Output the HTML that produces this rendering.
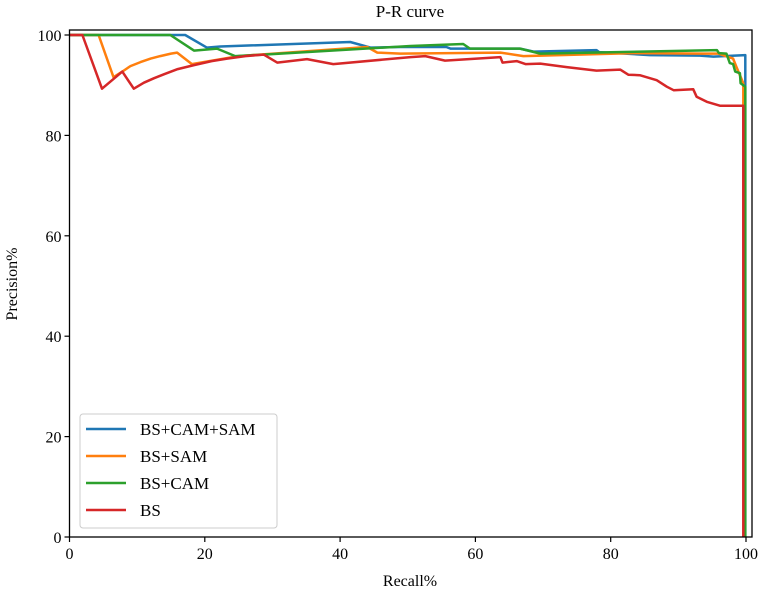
<!DOCTYPE html>
<html><head><meta charset="utf-8"><style>
body{margin:0;background:#fff}
svg{display:block;font-family:"Liberation Serif",serif}
</style></head><body>
<svg id="chart" width="762" height="593" viewBox="0 0 762 593"></svg>
<script>
const xTicks=[0,20,40,60,80,100];
const yTicks=[0,20,40,60,80,100];
const seriesNames=["BS+CAM+SAM","BS+SAM","BS+CAM","BS"];
const seriesColors=["#1f77b4","#ff7f0e","#2ca02c","#d62728"];
const blueX=[0,17.1,20.3,22.3,41.5,44.5,48.9,55.7,56.3,66.6,68.6,77.9,78.3,85.8,93.2,95.2,99.9,99.9,99.9];
const blueY=[100,100,97.5,97.7,98.6,97.5,97.6,97.6,97.3,97.3,96.7,97.0,96.6,96.0,95.9,95.7,96.0,93.0,0];
const orangeX=[0,4.3,6.5,7.8,9,10.5,12,13.4,15,15.9,18.1,25,44,45.5,48.9,63.7,67.1,83.4,93.7,95.9,98.1,98.6,99.6,99.7];
const orangeY=[100,100,91.6,92.7,93.8,94.6,95.3,95.8,96.3,96.5,94.2,95.8,97.6,96.5,96.3,96.5,95.8,96.4,96.3,96.3,95.3,93.6,90.4,0];
const greenX=[0,14.9,18.4,21.8,24.5,28.7,50.4,58.2,59.2,66.6,69.6,95.7,96,97.1,97.6,98.1,98.4,99.1,99.2,99.9,99.9];
const greenY=[100,100,96.9,97.3,95.8,96.1,97.8,98.2,97.3,97.3,96.3,97.0,96.4,96.3,94.4,94.2,92.7,92.4,90.4,89.7,0];
const redX=[0,1.9,4.8,7.8,9.5,11,12.5,14,16,18.4,21,23.3,26,28.7,30.7,35.1,39,50.4,52.6,55.5,63.7,64,66.1,67.4,69.6,73.5,77.9,81.4,82.6,84.3,86.8,88.3,89.3,92.2,92.7,94.2,96.2,99.6,99.6];
const redY=[100,100,89.3,92.7,89.3,90.5,91.4,92.2,93.2,94.0,94.8,95.3,95.8,96.1,94.5,95.2,94.2,95.6,95.8,94.9,95.6,94.5,94.8,94.2,94.3,93.6,92.9,93.1,92.1,92.0,91.0,89.7,89.0,89.2,87.7,86.7,85.9,85.9,0];
const allX=[blueX,orangeX,greenX,redX], allY=[blueY,orangeY,greenY,redY];
const L=69.5,R=752,T=30,B=537;
const sx=v=>L+v*6.765, sy=v=>B-v*5.02;
const svg=document.getElementById('chart');
const NS='http://www.w3.org/2000/svg';
function mk(t,a,txt){const e=document.createElementNS(NS,t);for(const k in a)e.setAttribute(k,a[k]);if(txt!=null)e.textContent=txt;svg.appendChild(e);return e;}
let e=mk('text',{x:410,y:17,'text-anchor':'middle','font-size':17},'P-R curve');


xTicks.forEach(v=>{
 let t=mk('line',{x1:sx(v),x2:sx(v),y1:B,y2:B+5,stroke:'#000','stroke-width':1.2});
 
 
 let l=mk('text',{x:sx(v),y:B+22,'text-anchor':'middle','font-size':16},v);
 
 
});
yTicks.forEach(v=>{
 let t=mk('line',{x1:L-5,x2:L,y1:sy(v),y2:sy(v),stroke:'#000','stroke-width':1.2});
 
 
 let l=mk('text',{x:L-8,y:sy(v)+6,'text-anchor':'end','font-size':16},v);
 
 
});
allX.forEach((xs,i)=>{
 const d=xs.map((x,j)=>(j?'L':'M')+sx(x).toFixed(1)+','+sy(allY[i][j]).toFixed(1)).join('');
 let p=mk('path',{d:d,fill:'none',stroke:seriesColors[i],'stroke-width':2.5,'stroke-linejoin':'round'});
 
 
});
e=mk('rect',{x:L,y:T,width:R-L,height:B-T,fill:'none',stroke:'#000','stroke-width':1.3});


e=mk('text',{x:410,y:586,'text-anchor':'middle','font-size':16},'Recall%');


e=mk('text',{x:0,y:0,'text-anchor':'middle','font-size':16,transform:'translate(17,284) rotate(-90)'},'Precision%');


e=mk('rect',{x:80,y:414,width:197,height:114,rx:3,fill:'#fff','fill-opacity':0.8,stroke:'#ccc','stroke-width':1});


seriesNames.forEach((n,i)=>{
 const y=429+i*27;
 let ln=mk('line',{x1:86,x2:126,y1:y,y2:y,stroke:seriesColors[i],'stroke-width':2.5});
 
 
 let tx=mk('text',{x:140,y:y+6,'font-size':17},n);
 
 
});
</script>
</body></html>
